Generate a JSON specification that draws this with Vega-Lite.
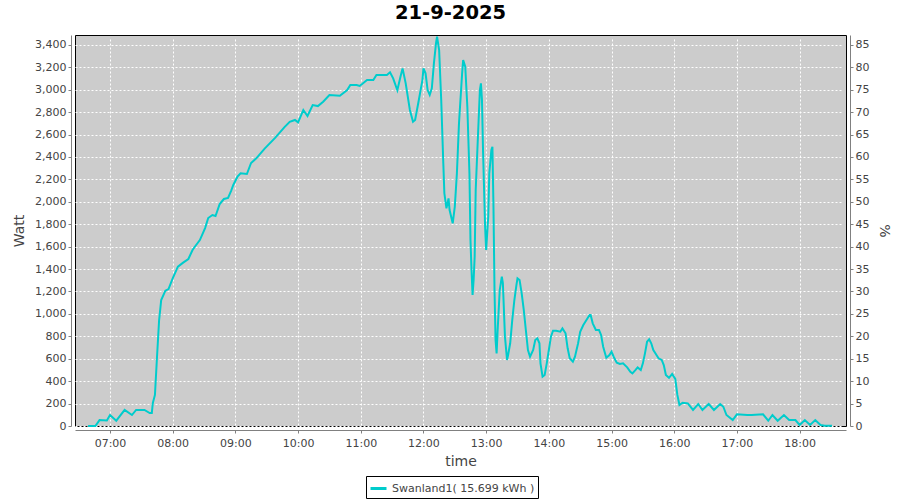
{
  "$schema": "https://vega.github.io/schema/vega-lite/v6.json",
  "autosize": "none",
  "width": 771,
  "height": 391,
  "padding": {"left": 75, "top": 35, "right": 54, "bottom": 74},
  "background": "white",
  "title": {"text": "21-9-2025", "font": "DejaVu Sans", "fontSize": 19.5, "fontWeight": "bold", "color": "black", "offset": 9, "dx": -10},
  "config": {
    "view": {"stroke": "black", "strokeWidth": 1, "fill": "#cccccc"},
    "axis": {"labelFont": "DejaVu Sans", "labelFontSize": 11, "labelColor": "#444444", "titleFont": "DejaVu Sans", "titleFontSize": 14, "titleFontWeight": "normal", "titleColor": "#444444", "domainColor": "#808080", "tickColor": "#808080", "tickSize": 3, "offset": 4, "gridColor": "white", "gridDash": [2, 2], "gridOpacity": 1, "gridWidth": 1}
  },
  "layer": [
    {
      "data": {"values": [
        {"t": "2025-09-21T06:39", "w": 0},
        {"t": "2025-09-21T06:46", "w": 0},
        {"t": "2025-09-21T06:50", "w": 53},
        {"t": "2025-09-21T06:57", "w": 50},
        {"t": "2025-09-21T07:00", "w": 98},
        {"t": "2025-09-21T07:06", "w": 47},
        {"t": "2025-09-21T07:14", "w": 143},
        {"t": "2025-09-21T07:21", "w": 98},
        {"t": "2025-09-21T07:25", "w": 143},
        {"t": "2025-09-21T07:33", "w": 143},
        {"t": "2025-09-21T07:38", "w": 116},
        {"t": "2025-09-21T07:40", "w": 116},
        {"t": "2025-09-21T07:41", "w": 205},
        {"t": "2025-09-21T07:43", "w": 277},
        {"t": "2025-09-21T07:45", "w": 618},
        {"t": "2025-09-21T07:47", "w": 945},
        {"t": "2025-09-21T07:49", "w": 1124},
        {"t": "2025-09-21T07:53", "w": 1207},
        {"t": "2025-09-21T07:56", "w": 1222},
        {"t": "2025-09-21T08:00", "w": 1317},
        {"t": "2025-09-21T08:05", "w": 1421},
        {"t": "2025-09-21T08:10", "w": 1457},
        {"t": "2025-09-21T08:15", "w": 1490},
        {"t": "2025-09-21T08:19", "w": 1570},
        {"t": "2025-09-21T08:21", "w": 1597},
        {"t": "2025-09-21T08:26", "w": 1659},
        {"t": "2025-09-21T08:31", "w": 1766},
        {"t": "2025-09-21T08:34", "w": 1855},
        {"t": "2025-09-21T08:38", "w": 1882},
        {"t": "2025-09-21T08:41", "w": 1873},
        {"t": "2025-09-21T08:45", "w": 1980},
        {"t": "2025-09-21T08:49", "w": 2025},
        {"t": "2025-09-21T08:53", "w": 2034},
        {"t": "2025-09-21T08:56", "w": 2100},
        {"t": "2025-09-21T08:58", "w": 2150},
        {"t": "2025-09-21T09:02", "w": 2224},
        {"t": "2025-09-21T09:05", "w": 2254},
        {"t": "2025-09-21T09:11", "w": 2248},
        {"t": "2025-09-21T09:15", "w": 2346},
        {"t": "2025-09-21T09:20", "w": 2388},
        {"t": "2025-09-21T09:28", "w": 2474},
        {"t": "2025-09-21T09:38", "w": 2570},
        {"t": "2025-09-21T09:47", "w": 2666},
        {"t": "2025-09-21T09:52", "w": 2714},
        {"t": "2025-09-21T09:57", "w": 2730},
        {"t": "2025-09-21T10:00", "w": 2709},
        {"t": "2025-09-21T10:05", "w": 2819},
        {"t": "2025-09-21T10:09", "w": 2765},
        {"t": "2025-09-21T10:14", "w": 2863},
        {"t": "2025-09-21T10:19", "w": 2854},
        {"t": "2025-09-21T10:24", "w": 2893},
        {"t": "2025-09-21T10:30", "w": 2953},
        {"t": "2025-09-21T10:40", "w": 2946},
        {"t": "2025-09-21T10:47", "w": 2997},
        {"t": "2025-09-21T10:50", "w": 3042},
        {"t": "2025-09-21T10:56", "w": 3042},
        {"t": "2025-09-21T10:59", "w": 3033},
        {"t": "2025-09-21T11:06", "w": 3086},
        {"t": "2025-09-21T11:12", "w": 3086},
        {"t": "2025-09-21T11:15", "w": 3131},
        {"t": "2025-09-21T11:25", "w": 3131},
        {"t": "2025-09-21T11:28", "w": 3155},
        {"t": "2025-09-21T11:31", "w": 3101},
        {"t": "2025-09-21T11:35", "w": 2995},
        {"t": "2025-09-21T11:38", "w": 3116},
        {"t": "2025-09-21T11:40", "w": 3190},
        {"t": "2025-09-21T11:43", "w": 3057},
        {"t": "2025-09-21T11:47", "w": 2819},
        {"t": "2025-09-21T11:50", "w": 2714},
        {"t": "2025-09-21T11:52", "w": 2730},
        {"t": "2025-09-21T11:55", "w": 2879},
        {"t": "2025-09-21T11:59", "w": 3086},
        {"t": "2025-09-21T12:00", "w": 3190},
        {"t": "2025-09-21T12:02", "w": 3146},
        {"t": "2025-09-21T12:04", "w": 2997},
        {"t": "2025-09-21T12:06", "w": 2953},
        {"t": "2025-09-21T12:08", "w": 3012},
        {"t": "2025-09-21T12:10", "w": 3235},
        {"t": "2025-09-21T12:12", "w": 3414},
        {"t": "2025-09-21T12:13", "w": 3473},
        {"t": "2025-09-21T12:15", "w": 3354},
        {"t": "2025-09-21T12:17", "w": 2908},
        {"t": "2025-09-21T12:19", "w": 2343},
        {"t": "2025-09-21T12:20", "w": 2076},
        {"t": "2025-09-21T12:22", "w": 1942},
        {"t": "2025-09-21T12:23", "w": 1986},
        {"t": "2025-09-21T12:24", "w": 2031},
        {"t": "2025-09-21T12:25", "w": 1927},
        {"t": "2025-09-21T12:28", "w": 1808},
        {"t": "2025-09-21T12:30", "w": 1957},
        {"t": "2025-09-21T12:32", "w": 2254},
        {"t": "2025-09-21T12:34", "w": 2700},
        {"t": "2025-09-21T12:36", "w": 2997},
        {"t": "2025-09-21T12:37", "w": 3146},
        {"t": "2025-09-21T12:38", "w": 3265},
        {"t": "2025-09-21T12:40", "w": 3205},
        {"t": "2025-09-21T12:42", "w": 2848},
        {"t": "2025-09-21T12:44", "w": 2257},
        {"t": "2025-09-21T12:45", "w": 1659},
        {"t": "2025-09-21T12:46", "w": 1392},
        {"t": "2025-09-21T12:47", "w": 1169},
        {"t": "2025-09-21T12:48", "w": 1302},
        {"t": "2025-09-21T12:49", "w": 1510},
        {"t": "2025-09-21T12:50", "w": 2105},
        {"t": "2025-09-21T12:52", "w": 2551},
        {"t": "2025-09-21T12:54", "w": 2997},
        {"t": "2025-09-21T12:55", "w": 3057},
        {"t": "2025-09-21T12:56", "w": 2908},
        {"t": "2025-09-21T12:57", "w": 2462},
        {"t": "2025-09-21T12:59", "w": 1778},
        {"t": "2025-09-21T13:00", "w": 1570},
        {"t": "2025-09-21T13:02", "w": 1867},
        {"t": "2025-09-21T13:03", "w": 2254},
        {"t": "2025-09-21T13:05", "w": 2462},
        {"t": "2025-09-21T13:06", "w": 2491},
        {"t": "2025-09-21T13:07", "w": 1957},
        {"t": "2025-09-21T13:08", "w": 1213},
        {"t": "2025-09-21T13:09", "w": 767},
        {"t": "2025-09-21T13:10", "w": 648},
        {"t": "2025-09-21T13:11", "w": 856},
        {"t": "2025-09-21T13:13", "w": 1213},
        {"t": "2025-09-21T13:15", "w": 1332},
        {"t": "2025-09-21T13:16", "w": 1275},
        {"t": "2025-09-21T13:18", "w": 797},
        {"t": "2025-09-21T13:20", "w": 589},
        {"t": "2025-09-21T13:21", "w": 633},
        {"t": "2025-09-21T13:23", "w": 738},
        {"t": "2025-09-21T13:25", "w": 946},
        {"t": "2025-09-21T13:27", "w": 1124},
        {"t": "2025-09-21T13:29", "w": 1258},
        {"t": "2025-09-21T13:30", "w": 1317},
        {"t": "2025-09-21T13:32", "w": 1302},
        {"t": "2025-09-21T13:34", "w": 1184},
        {"t": "2025-09-21T13:36", "w": 1035},
        {"t": "2025-09-21T13:38", "w": 856},
        {"t": "2025-09-21T13:40", "w": 678},
        {"t": "2025-09-21T13:42", "w": 618},
        {"t": "2025-09-21T13:45", "w": 678},
        {"t": "2025-09-21T13:47", "w": 767},
        {"t": "2025-09-21T13:49", "w": 782},
        {"t": "2025-09-21T13:51", "w": 738},
        {"t": "2025-09-21T13:52", "w": 559},
        {"t": "2025-09-21T13:54", "w": 440},
        {"t": "2025-09-21T13:56", "w": 455},
        {"t": "2025-09-21T13:58", "w": 559},
        {"t": "2025-09-21T14:00", "w": 678},
        {"t": "2025-09-21T14:02", "w": 797},
        {"t": "2025-09-21T14:04", "w": 850},
        {"t": "2025-09-21T14:07", "w": 850},
        {"t": "2025-09-21T14:11", "w": 841},
        {"t": "2025-09-21T14:13", "w": 871},
        {"t": "2025-09-21T14:16", "w": 827},
        {"t": "2025-09-21T14:18", "w": 693},
        {"t": "2025-09-21T14:20", "w": 604},
        {"t": "2025-09-21T14:23", "w": 574},
        {"t": "2025-09-21T14:25", "w": 618},
        {"t": "2025-09-21T14:28", "w": 738},
        {"t": "2025-09-21T14:30", "w": 841},
        {"t": "2025-09-21T14:33", "w": 901},
        {"t": "2025-09-21T14:36", "w": 946},
        {"t": "2025-09-21T14:39", "w": 990},
        {"t": "2025-09-21T14:40", "w": 990},
        {"t": "2025-09-21T14:42", "w": 916},
        {"t": "2025-09-21T14:45", "w": 856},
        {"t": "2025-09-21T14:48", "w": 856},
        {"t": "2025-09-21T14:50", "w": 812},
        {"t": "2025-09-21T14:52", "w": 707},
        {"t": "2025-09-21T14:55", "w": 609},
        {"t": "2025-09-21T14:58", "w": 633},
        {"t": "2025-09-21T15:00", "w": 663},
        {"t": "2025-09-21T15:02", "w": 618},
        {"t": "2025-09-21T15:05", "w": 565},
        {"t": "2025-09-21T15:08", "w": 553},
        {"t": "2025-09-21T15:11", "w": 559},
        {"t": "2025-09-21T15:15", "w": 523},
        {"t": "2025-09-21T15:18", "w": 484},
        {"t": "2025-09-21T15:20", "w": 470},
        {"t": "2025-09-21T15:23", "w": 500},
        {"t": "2025-09-21T15:25", "w": 523},
        {"t": "2025-09-21T15:28", "w": 500},
        {"t": "2025-09-21T15:30", "w": 559},
        {"t": "2025-09-21T15:32", "w": 648},
        {"t": "2025-09-21T15:34", "w": 752},
        {"t": "2025-09-21T15:36", "w": 773},
        {"t": "2025-09-21T15:38", "w": 738},
        {"t": "2025-09-21T15:40", "w": 678},
        {"t": "2025-09-21T15:43", "w": 633},
        {"t": "2025-09-21T15:45", "w": 604},
        {"t": "2025-09-21T15:48", "w": 589},
        {"t": "2025-09-21T15:50", "w": 544},
        {"t": "2025-09-21T15:52", "w": 455},
        {"t": "2025-09-21T15:55", "w": 430},
        {"t": "2025-09-21T15:58", "w": 464},
        {"t": "2025-09-21T16:01", "w": 420},
        {"t": "2025-09-21T16:03", "w": 277},
        {"t": "2025-09-21T16:05", "w": 187},
        {"t": "2025-09-21T16:08", "w": 208},
        {"t": "2025-09-21T16:13", "w": 202},
        {"t": "2025-09-21T16:18", "w": 143},
        {"t": "2025-09-21T16:23", "w": 196},
        {"t": "2025-09-21T16:27", "w": 143},
        {"t": "2025-09-21T16:33", "w": 196},
        {"t": "2025-09-21T16:38", "w": 143},
        {"t": "2025-09-21T16:44", "w": 196},
        {"t": "2025-09-21T16:47", "w": 172},
        {"t": "2025-09-21T16:50", "w": 98},
        {"t": "2025-09-21T16:56", "w": 53},
        {"t": "2025-09-21T17:00", "w": 104},
        {"t": "2025-09-21T17:10", "w": 98},
        {"t": "2025-09-21T17:14", "w": 98},
        {"t": "2025-09-21T17:25", "w": 104},
        {"t": "2025-09-21T17:30", "w": 47},
        {"t": "2025-09-21T17:34", "w": 98},
        {"t": "2025-09-21T17:39", "w": 47},
        {"t": "2025-09-21T17:45", "w": 98},
        {"t": "2025-09-21T17:50", "w": 53},
        {"t": "2025-09-21T17:56", "w": 53},
        {"t": "2025-09-21T18:00", "w": 9},
        {"t": "2025-09-21T18:05", "w": 53},
        {"t": "2025-09-21T18:10", "w": 9},
        {"t": "2025-09-21T18:15", "w": 53},
        {"t": "2025-09-21T18:20", "w": 9},
        {"t": "2025-09-21T18:24", "w": 3},
        {"t": "2025-09-21T18:31", "w": 3}
      ]},
      "mark": {"type": "line", "strokeWidth": 2},
      "encoding": {
        "x": {"field": "t", "type": "temporal", "title": "time",
          "scale": {"domain": [{"year": 2025, "month": 9, "date": 21, "hours": 6, "minutes": 26, "seconds": 30}, {"year": 2025, "month": 9, "date": 21, "hours": 18, "minutes": 44, "seconds": 24}]},
          "axis": {"format": "%H:%M", "tickCount": 12, "labelPadding": 4, "titlePadding": 6}},
        "y": {"field": "w", "type": "quantitative", "title": "Watt",
          "scale": {"domain": [0, 3488], "nice": false},
          "axis": {"values": [0, 200, 400, 600, 800, 1000, 1200, 1400, 1600, 1800, 2000, 2200, 2400, 2600, 2800, 3000, 3200, 3400], "format": ",d", "titlePadding": 8}},
        "color": {"datum": "Swanland1( 15.699 kWh )", "type": "nominal",
          "scale": {"range": ["#00cccc"]},
          "legend": {"title": null, "orient": "none", "legendX": 291, "legendY": 441, "symbolType": "stroke", "symbolStrokeWidth": 3, "symbolSize": 256, "labelFont": "DejaVu Sans", "labelFontSize": 11, "labelColor": "#444444", "strokeColor": "black", "fillColor": "white", "padding": 3}}
      }
    },
    {
      "data": {"values": [{"p": 0}, {"p": 87.2}]},
      "mark": {"type": "point", "opacity": 0},
      "encoding": {
        "y": {"field": "p", "type": "quantitative", "title": "%",
          "scale": {"domain": [0, 87.2], "nice": false},
          "axis": {"orient": "right", "grid": false, "values": [0, 5, 10, 15, 20, 25, 30, 35, 40, 45, 50, 55, 60, 65, 70, 75, 80, 85], "titlePadding": 8}}
      }
    }
  ],
  "resolve": {"scale": {"y": "independent"}}
}
